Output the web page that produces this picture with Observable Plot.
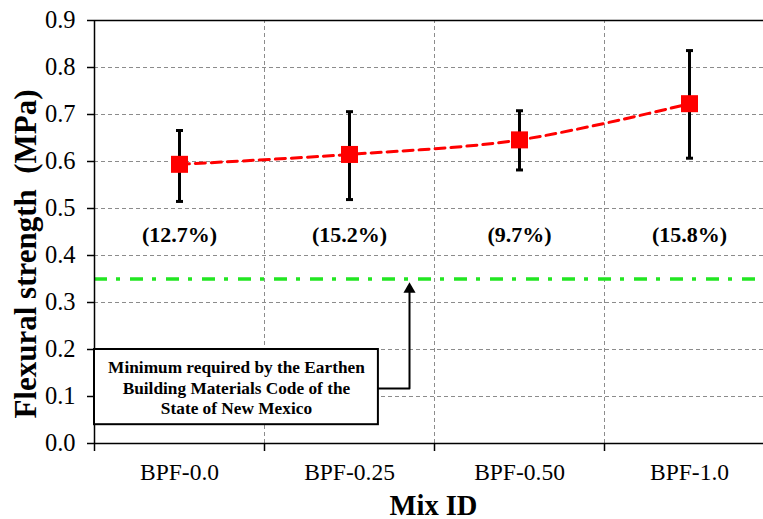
<!DOCTYPE html>
<html><head><meta charset="utf-8">
<script src="https://cdn.jsdelivr.net/npm/d3@7"></script>
<script src="https://cdn.jsdelivr.net/npm/@observablehq/plot@0.6"></script>
<style>body{margin:0;background:#fff;} #chart svg{overflow:hidden;display:block}</style>
</head><body><div id="chart"></div>
<script>
// ---- data ----
const mixes = ["BPF-0.0", "BPF-0.25", "BPF-0.50", "BPF-1.0"];
const means = [0.594, 0.615, 0.646, 0.723];
const upper = [0.666, 0.706, 0.708, 0.836];
const lower = [0.515, 0.519, 0.582, 0.607];
const covLabels = ["(12.7%)", "(15.2%)", "(9.7%)", "(15.8%)"];
const covLabelY = 0.443;
const minRequired = 0.35;
const yTicks = [0, 0.1, 0.2, 0.3, 0.4, 0.5, 0.6, 0.7, 0.8, 0.9];
const noteText = "Minimum required by the Earthen\nBuilding Materials Code of the\nState of New Mexico";
const noteBox = {x1: -0.5, x2: 1.17, y1: 0.04, y2: 0.2};
const yTitle = "Flexural strength  (MPa)";
const xTitle = "Mix ID";

const idx = mixes.map((_, i) => i);
const rows = idx.map(i => ({i, mix: mixes[i], mean: means[i], lo: lower[i], hi: upper[i], cov: covLabels[i]}));
const bounds = idx.map(i => i - 0.5).concat([idx.length - 0.5]);
const serif = "'Liberation Serif', 'Times New Roman', serif";
const capSymbol = {draw(ctx, size) { const r = Math.sqrt(size / Math.PI); ctx.moveTo(-r, 0); ctx.lineTo(r, 0); }};
const grid = "#8c8c8c";
const xMin = bounds[0], xMax = bounds[bounds.length - 1];
const arrowX = 1.353, arrowY = 0.117;

const plot = Plot.plot({
  width: 763, height: 519,
  marginLeft: 94, marginRight: 0, marginTop: 20, marginBottom: 76,
  style: {fontFamily: serif, background: "#fff", color: "#000"},
  x: {type: "linear", domain: [xMin, xMax], range: [94, 774]},
  y: {domain: [0, 0.9]},
  marks: [
    Plot.ruleY(yTicks.filter(v => v > 0 && v < 0.9), {x1: xMin, x2: xMax, stroke: grid, strokeWidth: 1, strokeDasharray: "4,3"}),
    Plot.ruleX(bounds.slice(1, -1), {y1: 0, y2: 0.9, stroke: grid, strokeWidth: 1, strokeDasharray: "4,3"}),
    Plot.ruleY([minRequired], {x1: xMin, x2: xMax, stroke: "#22e622", strokeWidth: 3.5, strokeDasharray: "13,9,4,10"}),
    Plot.ruleY([0.9], {x1: xMin, x2: xMax, stroke: "#000", strokeWidth: 1.5}),
    Plot.ruleY([0], {x1: xMin, x2: xMax, stroke: "#000", strokeWidth: 1.5}),
    Plot.ruleX([xMin], {y1: 0, y2: 0.9, stroke: "#000", strokeWidth: 1.5}),
    // error bars
    Plot.ruleX(rows, {x: "i", y1: "lo", y2: "hi", stroke: "#000", strokeWidth: 3}),
    Plot.dot(rows, {x: "i", y: "hi", symbol: capSymbol, r: 3.5, stroke: "#000", strokeWidth: 3, fill: "none"}),
    Plot.dot(rows, {x: "i", y: "lo", symbol: capSymbol, r: 3.5, stroke: "#000", strokeWidth: 3, fill: "none"}),
    // mean line and markers
    Plot.line(rows, {x: "i", y: "mean", stroke: "#ff0000", strokeWidth: 3, strokeDasharray: "10,6", curve: "catmull-rom"}),
    Plot.dot(rows, {x: "i", y: "mean", symbol: "square", r: 9.6, fill: "#ff0000", stroke: "none"}),
    // CoV labels
    Plot.text(rows, {x: "i", y: () => covLabelY, text: "cov", fontSize: 22, fontWeight: "bold"}),
    // annotation
    Plot.rect([noteBox], {x1: "x1", x2: "x2", y1: "y1", y2: "y2", fill: "#fff", stroke: "#000", strokeWidth: 2}),
    Plot.text([noteText], {x: (noteBox.x1 + noteBox.x2) / 2, y: (noteBox.y1 + noteBox.y2) / 2, text: d => d, fontSize: 17.3, fontWeight: "bold", lineHeight: 1.16}),
    Plot.line([[noteBox.x2, arrowY], [arrowX, arrowY], [arrowX, 0.33]], {stroke: "#000", strokeWidth: 2}),
    Plot.dot([[arrowX, 0.328]], {symbol: "triangle", r: 4.5, fill: "#000", stroke: "none"}),
    // axes
    Plot.axisY({ticks: yTicks, tickFormat: d3.format(".1f"), tickSize: 7, tickPadding: 12, fontSize: 24.5, label: null, stroke: "#000", strokeWidth: 1.5}),
    Plot.axisX({ticks: bounds.slice(0, -1), tickSize: 8, tickFormat: () => "", label: null, stroke: "#000", strokeWidth: 1.5}),
    Plot.axisX({ticks: idx, tickSize: 0, tickPadding: 20, tickFormat: i => mixes[i], fontSize: 23.5, label: null}),
    Plot.text([yTitle], {frameAnchor: "left", textAnchor: "middle", rotate: -90, dx: -68, dy: 22, text: d => d, fontSize: 31, fontWeight: "bold"}),
    Plot.text([xTitle], {frameAnchor: "bottom", textAnchor: "middle", dx: 4.5, dy: 71, text: d => d, fontSize: 28.5, fontWeight: "bold"})
  ]
});
document.getElementById("chart").appendChild(plot);
</script>
</body></html>
